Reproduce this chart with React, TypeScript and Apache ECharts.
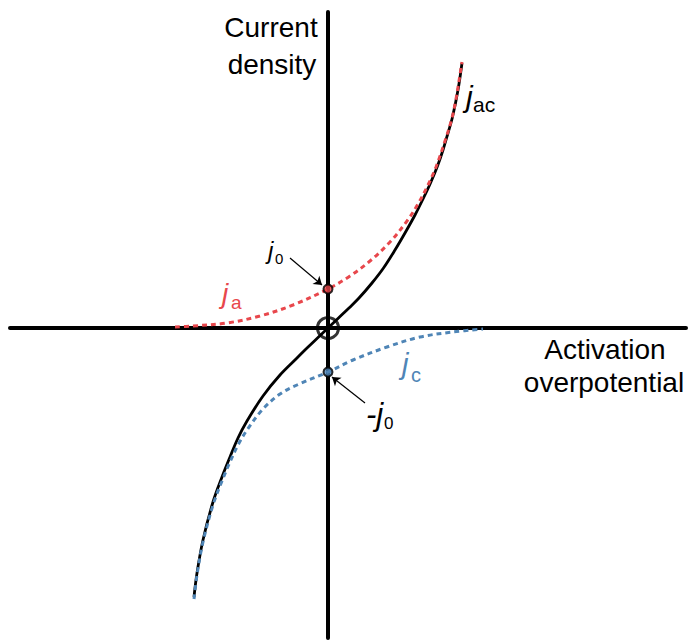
import React, { useEffect, useRef } from "react";
import * as echarts from "echarts";

// Net current density j_ac versus activation overpotential
const ETA_JAC = [-1.34, -1.31, -1.25, -1.15, -1.06, -0.98, -0.9, -0.81, -0.65, -0.48, -0.31, -0.21, -0.105, 0, 0.105, 0.21, 0.31, 0.44, 0.555, 0.67, 0.77, 0.87, 0.955, 1.025, 1.095, 1.15, 1.2, 1.245, 1.3, 1.34];
const J_JAC = [-2.69, -2.45, -2.12, -1.74, -1.49, -1.29, -1.1, -0.93, -0.68, -0.47, -0.3, -0.2, -0.1, 0, 0.1, 0.2, 0.3, 0.45, 0.6, 0.78, 0.95, 1.13, 1.3, 1.45, 1.62, 1.78, 1.95, 2.11, 2.38, 2.65];

// Anodic branch j_a
const ETA_JA = [-1.53, -1.35, -1.01, -0.68, -0.35, 0, 0.22, 0.42, 0.62, 0.79, 0.9, 1.0, 1.08, 1.17, 1.24, 1.28, 1.31, 1.34];
const J_JA = [0.01, 0.02, 0.05, 0.12, 0.23, 0.39, 0.52, 0.67, 0.86, 1.07, 1.24, 1.43, 1.61, 1.87, 2.1, 2.29, 2.47, 2.66];

// Cathodic branch j_c
const ETA_JC = [-1.34, -1.31, -1.25, -1.15, -1.06, -0.98, -0.9, -0.81, -0.65, -0.48, -0.31, 0, 0.25, 0.59, 0.92, 1.25, 1.55];
const J_JC = [-2.71, -2.47, -2.14, -1.77, -1.53, -1.34, -1.17, -1.02, -0.81, -0.66, -0.57, -0.44, -0.32, -0.19, -0.09, -0.04, -0.01];

// Exchange current density (j0 and -j0 at zero overpotential)
const J0 = 0.39;
const NEG_J0 = -0.44;

// Leader arrows: [tail, head] in data units
const ARROW_J0 = [[-0.38, 0.7], [-0.06, 0.43]];
const ARROW_NEG_J0 = [[0.37, -0.75], [0.04, -0.49]];

const RED = "#e8474c";
const BLUE = "#4f85b6";
const FONT = "'Liberation Sans', Arial, Helvetica, sans-serif";

const zip = (xs: number[], ys: number[]) => xs.map((x, i) => [x, ys[i]]);

type Sym = { x: number; y: number; main: string; sub: string; size: number; subSize: number; sx: number; sy: number; color: string };

// italic symbol with a roman subscript
const symbol = (s: Sym) => [
  {
    type: "text",
    x: s.x,
    y: s.y,
    style: { text: s.main, font: `italic ${s.size}px ${FONT}`, fill: s.color, align: "left", verticalAlign: "middle" },
    z: 10,
  },
  {
    type: "text",
    x: s.sx,
    y: s.sy,
    style: { text: s.sub, font: `${s.subSize}px ${FONT}`, fill: s.color, align: "left", verticalAlign: "middle" },
    z: 10,
  },
];

const plain = (text: string, x: number, y: number) => ({
  type: "text",
  x,
  y,
  style: { text, font: `28px ${FONT}`, fill: "#000", align: "center", verticalAlign: "middle" },
  z: 10,
});

export default function App() {
  const ref = useRef<HTMLDivElement>(null);

  useEffect(() => {
    if (!ref.current) return;
    const chart = echarts.init(ref.current, null, { renderer: "svg" });

    const axisCommon = {
      type: "value",
      axisLine: { show: true, onZero: true, lineStyle: { color: "#000", width: 4 } },
      axisTick: { show: false },
      axisLabel: { show: false },
      splitLine: { show: false },
    };

    const curve = (name: string, data: number[][], lineStyle: object, z: number) => ({
      name,
      type: "line",
      data,
      showSymbol: false,
      smooth: 0.35,
      lineStyle,
      z,
    });

    chart.setOption({
      animation: false,
      backgroundColor: "#fff",
      grid: { left: 10, right: 8, top: 12, bottom: 2 },
      xAxis: { ...axisCommon, min: -3.18, max: 3.58 },
      yAxis: { ...axisCommon, min: -3.1, max: 3.16 },
      series: [
        curve("jac", zip(ETA_JAC, J_JAC), { color: "#000", width: 2.8 }, 3),
        curve("ja", zip(ETA_JA, J_JA), { color: RED, width: 3, type: [5, 4] }, 4),
        curve("jc", zip(ETA_JC, J_JC), { color: BLUE, width: 3, type: [5, 4] }, 4),
        {
          name: "origin",
          type: "scatter",
          data: [[0, 0]],
          symbol: "circle",
          symbolSize: 21,
          itemStyle: { color: "rgba(0,0,0,0)", borderColor: "#000", borderWidth: 3 },
          z: 5,
        },
        {
          name: "j0",
          type: "scatter",
          data: [
            { value: [0, J0], itemStyle: { color: RED } },
            { value: [0, NEG_J0], itemStyle: { color: BLUE } },
          ],
          symbol: "circle",
          symbolSize: 9,
          itemStyle: { borderColor: "#000", borderWidth: 2 },
          z: 6,
        },
        {
          name: "arrows",
          type: "lines",
          coordinateSystem: "cartesian2d",
          data: [{ coords: ARROW_J0 }, { coords: ARROW_NEG_J0 }],
          symbol: ["none", "arrow"],
          symbolSize: 8,
          lineStyle: { color: "#000", width: 1.2, curveness: 0, opacity: 1 },
          z: 6,
        },
      ],
      graphic: [
        plain("Current", 271, 27),
        plain("density", 272, 64),
        plain("Activation", 605, 349),
        plain("overpotential", 604, 382),
        ...symbol({ x: 466, y: 96, main: "j", sub: "ac", size: 30, subSize: 21, sx: 473, sy: 104, color: "#000" }),
        ...symbol({ x: 268, y: 250, main: "j", sub: "0", size: 24, subSize: 15, sx: 275, sy: 258, color: "#000" }),
        ...symbol({ x: 222, y: 293, main: "j", sub: "a", size: 28, subSize: 19, sx: 231, sy: 302, color: RED }),
        ...symbol({ x: 402, y: 364, main: "j", sub: "c", size: 29, subSize: 20, sx: 411, sy: 375, color: BLUE }),
        ...symbol({ x: 366, y: 414, main: "-j", sub: "0", size: 31, subSize: 17, sx: 384, sy: 423, color: "#000" }),
      ],
    });

    return () => chart.dispose();
  }, []);

  return (
    <div
      ref={ref}
      style={{ position: "absolute", left: 0, top: 0, width: 694, height: 640 }}
    />
  );
}
